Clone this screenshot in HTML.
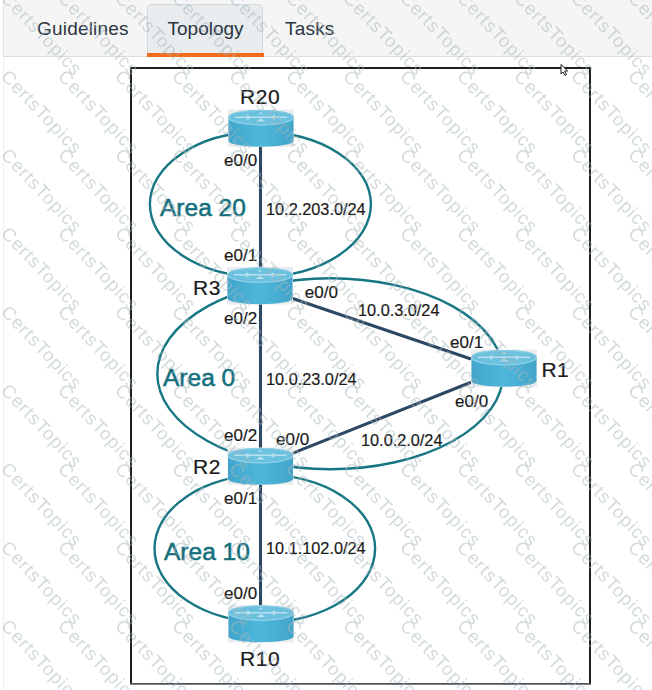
<!DOCTYPE html>
<html><head><meta charset="utf-8">
<style>
html,body{margin:0;padding:0;background:#fff;width:652px;height:690px;overflow:hidden;position:relative;font-family:"Liberation Sans",sans-serif;}
#bar{position:absolute;left:3px;top:0;width:649px;height:56px;background:#f5f5f5;border-left:1px solid #e2e2e2;border-bottom:1px solid #dcdcdc;}
.tab{position:absolute;top:17.5px;font-size:19px;letter-spacing:0.2px;color:#2b3540;line-height:22px;}
#t1{left:37px;}
#t2{left:147px;top:4px;width:114px;height:49px;background:#e8ecee;border:1px solid #d3d8db;border-bottom:none;border-radius:5px 5px 0 0;}
#t2 span{position:absolute;left:19.5px;top:12.5px;letter-spacing:0;}
#t2u{position:absolute;left:147px;top:53px;width:117px;height:4px;background:#f26a1b;}
#t3{left:285px;}
#vline{position:absolute;left:3px;top:57px;width:1px;height:633px;background:#f0f0f0;}
svg{position:absolute;left:0;top:0;}
</style></head><body>
<div id="bar"></div>
<div class="tab" id="t1">Guidelines</div>
<div class="tab" id="t2"><span>Topology</span></div>
<div id="t2u"></div>
<div class="tab" id="t3">Tasks</div>
<div id="vline"></div>
<svg width="652" height="690" viewBox="0 0 652 690">
<defs>
<linearGradient id="body" x1="0" x2="1" y1="0" y2="0">
<stop offset="0" stop-color="#42a6cc"/>
<stop offset="0.5" stop-color="#4fb7dc"/>
<stop offset="1" stop-color="#42a4ca"/>
</linearGradient>
<g id="rt">
<rect x="0" y="0" width="66" height="37.5" fill="#eaeced"/>
<path d="M0.5,7.3 V31.5 A32.5,5.7 0 0 0 65.5,31.5 V7.3 Z" fill="url(#body)"/>
<ellipse cx="33" cy="7.3" rx="32.5" ry="6.8" fill="#6cc1df"/>
<path d="M0.8,8 A32.2,7.2 0 0 0 65.2,8" fill="none" stroke="#8fd1e8" stroke-width="1.5"/>
<path d="M2,6.5 A31,5.5 0 0 1 64,6.5" fill="none" stroke="#86cde6" stroke-width="1.2"/>
<g fill="none" stroke="#ffffff" stroke-width="1.5" opacity="0.5">
<path d="M7,7.8 H59"/>
<path d="M19,5.8 L22,7.8 L19,9.8 M47,5.8 L44,7.8 L47,9.8"/>
</g>
<path d="M28.5,12 L33,9 L37.5,12 Z" fill="#ffffff" opacity="0.55"/>
<path d="M30.5,4.6 L33,2.6 L35.5,4.6 Z" fill="#ffffff" opacity="0.45"/>
</g>
<text id="wm" x="0" y="0" transform="rotate(46.5)" font-family="Liberation Sans, sans-serif" font-size="18.5" letter-spacing="1" fill="#a6b6ba">CertsTopics</text>
</defs>
<path d="M131,684 V68 H590 V684" fill="none" stroke="#1e1e1e" stroke-width="2"/>
<line x1="130" y1="683.9" x2="591" y2="683.9" stroke="#4c545a" stroke-width="1.8"/>
<g fill="none" stroke="#167683" stroke-width="2.4">
<ellipse cx="260.4" cy="204.3" rx="110.5" ry="72.3"/>
<ellipse cx="330.2" cy="373.7" rx="172.9" ry="95.5"/>
<ellipse cx="264.8" cy="548.5" rx="110.3" ry="73.7"/>
</g>
<g stroke="#2e4862" stroke-width="3.1" fill="none">
<line x1="260.5" y1="140" x2="260.5" y2="610"/>
<line x1="292.7" y1="298.5" x2="471" y2="359"/>
<line x1="292.3" y1="453.4" x2="471" y2="382.3"/>
</g>
<use href="#rt" x="228" y="109.5"/>
<use href="#rt" x="227" y="267"/>
<use href="#rt" x="471" y="349.5"/>
<use href="#rt" x="227.5" y="447.5"/>
<use href="#rt" x="228" y="605"/>
<g font-family="Liberation Sans, sans-serif" fill="#1a1a1a" stroke="#1a1a1a" stroke-width="0.2">
<text x="240" y="104" font-size="21" letter-spacing="0.6">R20</text>
<text x="193" y="295" font-size="21" letter-spacing="0.6">R3</text>
<text x="193" y="474" font-size="21" letter-spacing="0.6">R2</text>
<text x="541.5" y="376.5" font-size="21" letter-spacing="0.4">R1</text>
<text x="240" y="666" font-size="21" letter-spacing="0.6">R10</text>
<g font-size="17">
<text x="224" y="166">e0/0</text>
<text x="224" y="261">e0/1</text>
<text x="224" y="324">e0/2</text>
<text x="304.8" y="298">e0/0</text>
<text x="450" y="348">e0/1</text>
<text x="455" y="407">e0/0</text>
<text x="224" y="441">e0/2</text>
<text x="276" y="444.5">e0/0</text>
<text x="224" y="504">e0/1</text>
<text x="224" y="598.5">e0/0</text>
</g>
<g font-size="16.3">
<text x="266" y="215">10.2.203.0/24</text>
<text x="358" y="316">10.0.3.0/24</text>
<text x="266" y="384.5">10.0.23.0/24</text>
<text x="361" y="445.5">10.0.2.0/24</text>
<text x="266" y="554">10.1.102.0/24</text>
</g>
</g>
<g font-family="Liberation Sans, sans-serif" fill="#136f7c" stroke="#136f7c" stroke-width="0.55" font-size="24.5">
<text x="160" y="215.5">Area 20</text>
<text x="163" y="385.5">Area 0</text>
<text x="164" y="560">Area 10</text>
</g>
<g id="wmg" opacity="0.5">
<use href="#wm" x="0.1" y="-1.25"/>
<use href="#wm" x="57.1" y="-1.25"/>
<use href="#wm" x="114.1" y="-1.25"/>
<use href="#wm" x="171.1" y="-1.25"/>
<use href="#wm" x="228.1" y="-1.25"/>
<use href="#wm" x="285.1" y="-1.25"/>
<use href="#wm" x="342.1" y="-1.25"/>
<use href="#wm" x="399.1" y="-1.25"/>
<use href="#wm" x="456.1" y="-1.25"/>
<use href="#wm" x="513.1" y="-1.25"/>
<use href="#wm" x="570.1" y="-1.25"/>
<use href="#wm" x="627.1" y="-1.25"/>
<use href="#wm" x="0.1" y="77.25"/>
<use href="#wm" x="57.1" y="77.25"/>
<use href="#wm" x="114.1" y="77.25"/>
<use href="#wm" x="171.1" y="77.25"/>
<use href="#wm" x="228.1" y="77.25"/>
<use href="#wm" x="285.1" y="77.25"/>
<use href="#wm" x="342.1" y="77.25"/>
<use href="#wm" x="399.1" y="77.25"/>
<use href="#wm" x="456.1" y="77.25"/>
<use href="#wm" x="513.1" y="77.25"/>
<use href="#wm" x="570.1" y="77.25"/>
<use href="#wm" x="627.1" y="77.25"/>
<use href="#wm" x="0.1" y="155.75"/>
<use href="#wm" x="57.1" y="155.75"/>
<use href="#wm" x="114.1" y="155.75"/>
<use href="#wm" x="171.1" y="155.75"/>
<use href="#wm" x="228.1" y="155.75"/>
<use href="#wm" x="285.1" y="155.75"/>
<use href="#wm" x="342.1" y="155.75"/>
<use href="#wm" x="399.1" y="155.75"/>
<use href="#wm" x="456.1" y="155.75"/>
<use href="#wm" x="513.1" y="155.75"/>
<use href="#wm" x="570.1" y="155.75"/>
<use href="#wm" x="627.1" y="155.75"/>
<use href="#wm" x="0.1" y="234.25"/>
<use href="#wm" x="57.1" y="234.25"/>
<use href="#wm" x="114.1" y="234.25"/>
<use href="#wm" x="171.1" y="234.25"/>
<use href="#wm" x="228.1" y="234.25"/>
<use href="#wm" x="285.1" y="234.25"/>
<use href="#wm" x="342.1" y="234.25"/>
<use href="#wm" x="399.1" y="234.25"/>
<use href="#wm" x="456.1" y="234.25"/>
<use href="#wm" x="513.1" y="234.25"/>
<use href="#wm" x="570.1" y="234.25"/>
<use href="#wm" x="627.1" y="234.25"/>
<use href="#wm" x="0.1" y="312.75"/>
<use href="#wm" x="57.1" y="312.75"/>
<use href="#wm" x="114.1" y="312.75"/>
<use href="#wm" x="171.1" y="312.75"/>
<use href="#wm" x="228.1" y="312.75"/>
<use href="#wm" x="285.1" y="312.75"/>
<use href="#wm" x="342.1" y="312.75"/>
<use href="#wm" x="399.1" y="312.75"/>
<use href="#wm" x="456.1" y="312.75"/>
<use href="#wm" x="513.1" y="312.75"/>
<use href="#wm" x="570.1" y="312.75"/>
<use href="#wm" x="627.1" y="312.75"/>
<use href="#wm" x="0.1" y="391.25"/>
<use href="#wm" x="57.1" y="391.25"/>
<use href="#wm" x="114.1" y="391.25"/>
<use href="#wm" x="171.1" y="391.25"/>
<use href="#wm" x="228.1" y="391.25"/>
<use href="#wm" x="285.1" y="391.25"/>
<use href="#wm" x="342.1" y="391.25"/>
<use href="#wm" x="399.1" y="391.25"/>
<use href="#wm" x="456.1" y="391.25"/>
<use href="#wm" x="513.1" y="391.25"/>
<use href="#wm" x="570.1" y="391.25"/>
<use href="#wm" x="627.1" y="391.25"/>
<use href="#wm" x="0.1" y="469.75"/>
<use href="#wm" x="57.1" y="469.75"/>
<use href="#wm" x="114.1" y="469.75"/>
<use href="#wm" x="171.1" y="469.75"/>
<use href="#wm" x="228.1" y="469.75"/>
<use href="#wm" x="285.1" y="469.75"/>
<use href="#wm" x="342.1" y="469.75"/>
<use href="#wm" x="399.1" y="469.75"/>
<use href="#wm" x="456.1" y="469.75"/>
<use href="#wm" x="513.1" y="469.75"/>
<use href="#wm" x="570.1" y="469.75"/>
<use href="#wm" x="627.1" y="469.75"/>
<use href="#wm" x="0.1" y="548.25"/>
<use href="#wm" x="57.1" y="548.25"/>
<use href="#wm" x="114.1" y="548.25"/>
<use href="#wm" x="171.1" y="548.25"/>
<use href="#wm" x="228.1" y="548.25"/>
<use href="#wm" x="285.1" y="548.25"/>
<use href="#wm" x="342.1" y="548.25"/>
<use href="#wm" x="399.1" y="548.25"/>
<use href="#wm" x="456.1" y="548.25"/>
<use href="#wm" x="513.1" y="548.25"/>
<use href="#wm" x="570.1" y="548.25"/>
<use href="#wm" x="627.1" y="548.25"/>
<use href="#wm" x="0.1" y="626.75"/>
<use href="#wm" x="57.1" y="626.75"/>
<use href="#wm" x="114.1" y="626.75"/>
<use href="#wm" x="171.1" y="626.75"/>
<use href="#wm" x="228.1" y="626.75"/>
<use href="#wm" x="285.1" y="626.75"/>
<use href="#wm" x="342.1" y="626.75"/>
<use href="#wm" x="399.1" y="626.75"/>
<use href="#wm" x="456.1" y="626.75"/>
<use href="#wm" x="513.1" y="626.75"/>
<use href="#wm" x="570.1" y="626.75"/>
<use href="#wm" x="627.1" y="626.75"/>
<use href="#wm" x="0.1" y="705.25"/>
<use href="#wm" x="57.1" y="705.25"/>
<use href="#wm" x="114.1" y="705.25"/>
<use href="#wm" x="171.1" y="705.25"/>
<use href="#wm" x="228.1" y="705.25"/>
<use href="#wm" x="285.1" y="705.25"/>
<use href="#wm" x="342.1" y="705.25"/>
<use href="#wm" x="399.1" y="705.25"/>
<use href="#wm" x="456.1" y="705.25"/>
<use href="#wm" x="513.1" y="705.25"/>
<use href="#wm" x="570.1" y="705.25"/>
<use href="#wm" x="627.1" y="705.25"/>
</g>
<path d="M561,64.5 L567.6,70.9 L564.6,71.2 L566.6,74.6 L565,75.5 L563,72 L561,74 Z" fill="#ffffff" stroke="#1a1a1a" stroke-width="1" stroke-linejoin="round"/>
</svg>
</body></html>
